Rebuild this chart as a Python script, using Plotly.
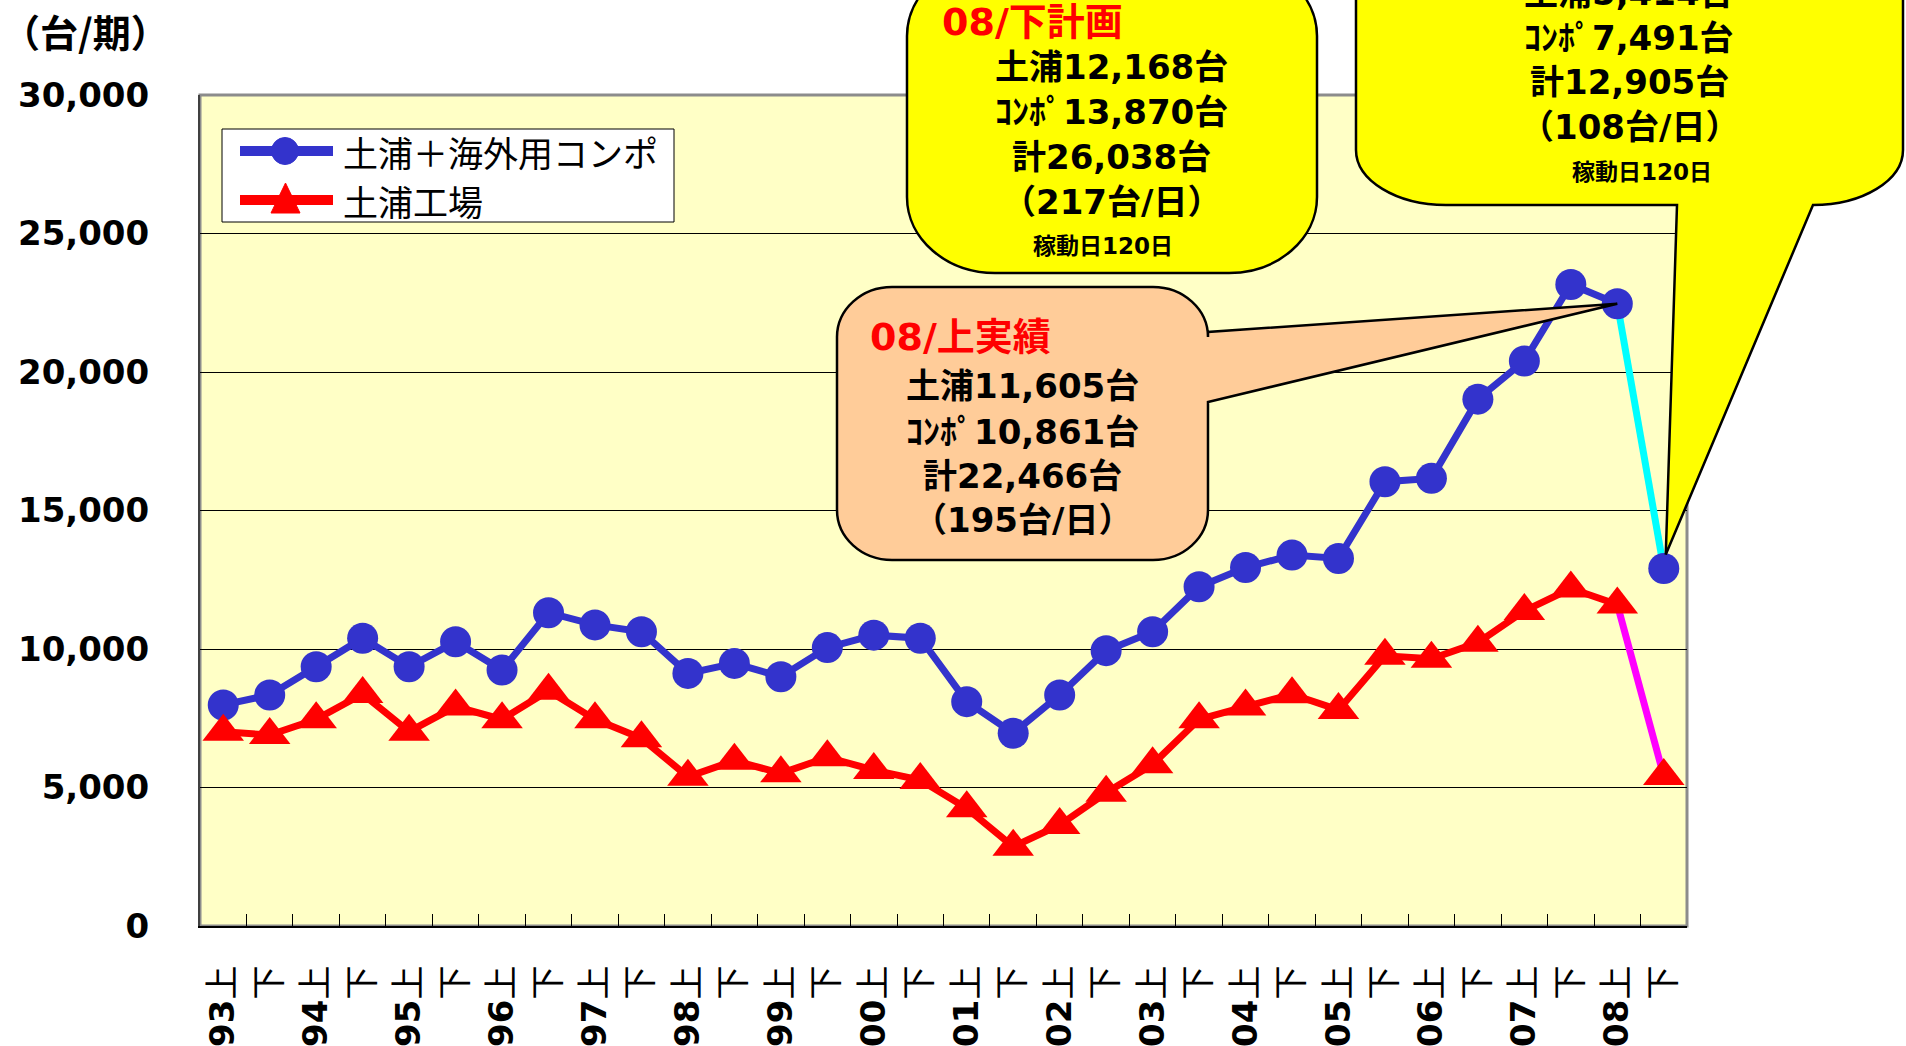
import plotly.graph_objects as go

# ---------------- data ----------------
categories = [
    "93上", "93下", "94上", "94下", "95上", "95下", "96上", "96下",
    "97上", "97下", "98上", "98下", "99上", "99下", "00上", "00下",
    "01上", "01下", "02上", "02下", "03上", "03下", "04上", "04下",
    "05上", "05下", "06上", "06下", "07上", "07下", "08上", "08下",
]
# 土浦＋海外用コンポ (total)
total_units = [
    7980, 8340, 9360, 10390, 9360, 10260, 9240, 11310,
    10870, 10625, 9120, 9480, 9000, 10050, 10500, 10390,
    8100, 6960, 8340, 9940, 10620, 12250, 12940, 13390,
    13270, 16040, 16160, 19020, 20400, 23160, 22466, 12905,
]
# 土浦工場
tsuchiura_units = [
    7015, 6895, 7460, 8375, 7015, 7920, 7460, 8495,
    7460, 6775, 5390, 5970, 5510, 6090, 5630, 5270,
    4250, 2865, 3645, 4810, 5835, 7460, 7920, 8365,
    7800, 9755, 9650, 10230, 11375, 12185, 11605, 5414,
]
series_names = ["土浦＋海外用コンポ", "土浦工場"]
y_ticks = [0, 5000, 10000, 15000, 20000, 25000, 30000]
tick_labels = [f"<b>{c[:2]}</b>上" if c.endswith("上") else "下" for c in categories]

plan_lines = ["土浦12,168台", "ｺﾝﾎﾟ13,870台", "計26,038台", "（217台/日）"]
actual_lines = ["土浦11,605台", "ｺﾝﾎﾟ10,861台", "計22,466台", "（195台/日）"]
revised_lines = ["土浦5,414台", "ｺﾝﾎﾟ7,491台", "計12,905台", "（108台/日）"]
work_days = "稼動日120日"

# ---------------- geometry (page pixels) ----------------
W, H = 1906, 1046
L, T, R, B = 200, 95, 1687, 926
PW, PH = R - L, B - T
NCAT = len(categories)
YMAX = 30000

BLUE = "#3333CC"
RED = "#FF0000"
CYAN = "#00FFFF"
MAGENTA = "#FF00FF"
YELLOW = "#FFFF00"
ORANGE = "#FFCC99"
PLOTBG = "#FFFFC6"

CALL_FONT = "DejaVu Sans, Noto Sans CJK JP"
JP_FONT = "Noto Sans CJK JP"


def px(x):
    return (x - L) / PW


def py(y):
    return (B - y) / PH


def P(x, y):
    return f"{px(x):.5f},{py(y):.5f}"


def data_px(i, v):
    # pixel position of a data point via the axis ranges used below
    return (L + (i + 0.5) / NCAT * PW, B - v / YMAX * PH)


def callout_path(x0, y0, x1, y1, rx, ry, side=None, b1=None, b2=None, tip=None):
    k = 0.5523
    s = [f"M{P(x0 + rx, y0)}", f"L{P(x1 - rx, y0)}",
         f"C{P(x1 - rx + k * rx, y0)} {P(x1, y0 + ry - k * ry)} {P(x1, y0 + ry)}"]
    if side == "right":
        s += [f"L{P(x1, b1)}", f"L{P(*tip)}", f"L{P(x1, b2)}"]
    s += [f"L{P(x1, y1 - ry)}",
          f"C{P(x1, y1 - ry + k * ry)} {P(x1 - rx + k * rx, y1)} {P(x1 - rx, y1)}"]
    if side == "bottom":
        s += [f"L{P(b2, y1)}", f"L{P(*tip)}", f"L{P(b1, y1)}"]
    s += [f"L{P(x0 + rx, y1)}",
          f"C{P(x0 + rx - k * rx, y1)} {P(x0, y1 - ry + k * ry)} {P(x0, y1 - ry)}",
          f"L{P(x0, y0 + ry)}",
          f"C{P(x0, y0 + ry - k * ry)} {P(x0 + rx - k * rx, y0)} {P(x0 + rx, y0)}",
          "Z"]
    return " ".join(s)


fig = go.Figure()

last = NCAT - 1
prev = NCAT - 2

# final (plan) segments
fig.add_trace(go.Scatter(x=categories[prev:], y=total_units[prev:], mode="lines",
                         line=dict(color=CYAN, width=7), showlegend=False, hoverinfo="skip"))
fig.add_trace(go.Scatter(x=categories[prev:], y=tsuchiura_units[prev:], mode="lines",
                         line=dict(color=MAGENTA, width=7), showlegend=False, hoverinfo="skip"))

fig.add_trace(go.Scatter(x=categories[:last], y=total_units[:last], mode="lines+markers",
                         name=series_names[0], line=dict(color=BLUE, width=7),
                         marker=dict(symbol="circle", size=31, color=BLUE), showlegend=False))
fig.add_trace(go.Scatter(x=categories[last:], y=total_units[last:], mode="markers",
                         name=series_names[0],
                         marker=dict(symbol="circle", size=31, color=BLUE), showlegend=False))
fig.add_trace(go.Scatter(x=categories[:last], y=tsuchiura_units[:last], mode="lines+markers",
                         name=series_names[1], line=dict(color=RED, width=7),
                         marker=dict(symbol="triangle-up", size=36, color=RED), showlegend=False))
fig.add_trace(go.Scatter(x=categories[last:], y=tsuchiura_units[last:], mode="markers",
                         name=series_names[1],
                         marker=dict(symbol="triangle-up", size=36, color=RED), showlegend=False))

shapes = []
# plot area frame (top / right grey)
shapes.append(dict(type="rect", xref="paper", yref="paper", x0=0, y0=0, x1=1, y1=1,
                   line=dict(color="#8C8C8C", width=3), layer="below"))

# ---- legend box (drawn) ----
shapes.append(dict(type="rect", xref="paper", yref="paper",
                   x0=px(222), x1=px(674), y0=py(222), y1=py(129),
                   fillcolor="white", line=dict(color="black", width=1), layer="above"))
LEG_Y = [151, 200]
for yy, col in zip(LEG_Y, [BLUE, RED]):
    shapes.append(dict(type="line", xref="paper", yref="paper",
                       x0=px(240), x1=px(333), y0=py(yy), y1=py(yy),
                       line=dict(color=col, width=10), layer="above"))
shapes.append(dict(type="circle", xref="paper", yref="paper",
                   x0=px(285 - 13.5), x1=px(285 + 13.5),
                   y0=py(LEG_Y[0] + 13.5), y1=py(LEG_Y[0] - 13.5),
                   fillcolor=BLUE, line=dict(color=BLUE, width=1), layer="above"))
shapes.append(dict(type="path", xref="paper", yref="paper",
                   path=f"M{P(271, 213)} L{P(300, 213)} L{P(285.5, 183)} Z",
                   fillcolor=RED, line=dict(color=RED, width=1), layer="above"))

# yellow plan callout (no visible tail)
shapes.append(dict(type="path", xref="paper", yref="paper",
                   path=callout_path(907, -40, 1317, 273, 88, 76),
                   fillcolor=YELLOW, line=dict(color="black", width=2.5), layer="above"))
# orange actual callout with tail to 08上
tip_a = data_px(prev, total_units[prev])
shapes.append(dict(type="path", xref="paper", yref="paper",
                   path=callout_path(837, 287, 1208, 560, 55, 50, side="right",
                                     b1=332, b2=402, tip=tip_a),
                   fillcolor=ORANGE, line=dict(color="black", width=2.5), layer="above"))
# yellow revised callout with tail to 08下
tx, ty = data_px(last, total_units[last])
shapes.append(dict(type="path", xref="paper", yref="paper",
                   path=callout_path(1356, -120, 1903, 205, 90, 55, side="bottom",
                                     b1=1677, b2=1813, tip=(tx + 2, ty - 14)),
                   fillcolor=YELLOW, line=dict(color="black", width=2.5), layer="above"))

annotations = []


def add_text(text, x, y, size=34, color="black", anchor="center", bold=True, family=CALL_FONT):
    annotations.append(dict(text=text, x=px(x), y=py(y), xref="paper", yref="paper",
                            xanchor=anchor, yanchor="middle", showarrow=False,
                            font=dict(family=family, size=size, color=color,
                                      weight="bold" if bold else "normal")))


# legend labels
for name, yy in zip(series_names, LEG_Y):
    add_text(name, 341, yy, size=35, anchor="left", bold=False, family=JP_FONT)

# unit label
add_text("（台/期）", 86, 31, size=38, family=JP_FONT)

# plan callout text
add_text("08/下計画", 940, 22, size=38, color="red", anchor="left")
for t, yy in zip(plan_lines, [67, 112, 157, 202]):
    add_text(t, 1111, yy)
add_text(work_days, 1103, 246, size=23)

# actual callout text
add_text("08/上実績", 868, 337, size=38, color="red", anchor="left")
for t, yy in zip(actual_lines, [386, 432, 476, 520]):
    add_text(t, 1022, yy)

# revised callout text
for t, yy in zip(revised_lines, [-7, 38, 82, 127]):
    add_text(t, 1629, yy)
add_text(work_days, 1642, 172, size=23)

fig.update_layout(
    width=W, height=H,
    margin=dict(l=L, r=W - R, t=T, b=H - B, autoexpand=False),
    paper_bgcolor="white",
    plot_bgcolor=PLOTBG,
    showlegend=False,
    shapes=shapes,
    annotations=annotations,
    xaxis=dict(type="category", categoryorder="array", categoryarray=categories,
               range=[-0.5, NCAT - 0.5], tickmode="array", tickvals=categories,
               ticktext=tick_labels, tickangle=-90, ticks="inside", ticklen=12,
               tickcolor="black", tickwidth=1, tickson="boundaries",
               showline=True, linecolor="black", linewidth=2, showgrid=False,
               tickfont=dict(family=CALL_FONT, size=34, color="black"),
               ticklabelstandoff=24, automargin=False, fixedrange=True),
    yaxis=dict(range=[0, YMAX], tickmode="array", tickvals=y_ticks, tickformat=",d",
               showgrid=True, gridcolor="black", gridwidth=1, zeroline=False,
               ticks="inside", ticklen=10, tickcolor="black",
               showline=True, linecolor="#404040", linewidth=2,
               tickfont=dict(family="DejaVu Sans", size=34, weight="bold", color="black"),
               ticklabelstandoff=42, automargin=False, fixedrange=True),
)

fig.write_html("out.html", config={"displayModeBar": False},
               post_script="document.body.style.margin='0px';")
